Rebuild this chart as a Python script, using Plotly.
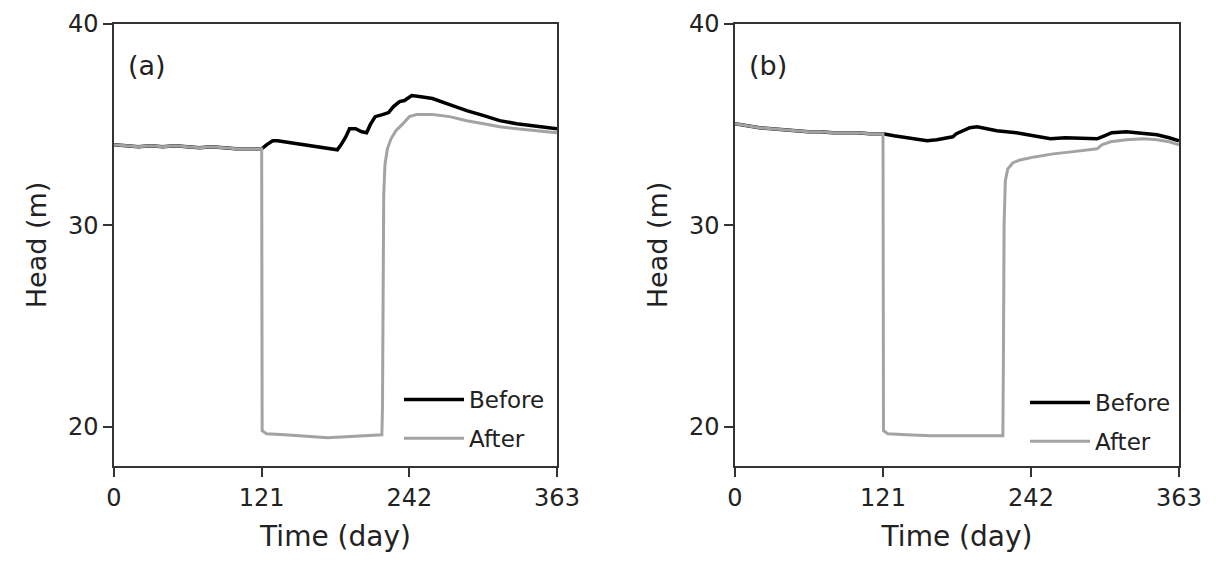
import plotly.graph_objects as go

# ---------------- data ----------------
x_ticks = [0, 121, 242, 363]
y_ticks = [20, 30, 40]

# panel (a)
a_before_x = [0, 10, 20, 30, 40, 50, 60, 70, 80, 90, 100, 110, 121, 125, 130, 134, 150, 165, 183,
              186, 190, 193, 198, 203, 207, 210, 214, 220, 225, 229, 234, 238, 244, 250, 261, 275,
              289, 303, 316, 330, 345, 363]
a_before_y = [34.0, 33.95, 33.9, 33.95, 33.9, 33.95, 33.9, 33.85, 33.9, 33.85, 33.8, 33.8, 33.8,
              34.0, 34.2, 34.2, 34.05, 33.9, 33.75, 34.0, 34.4, 34.8, 34.8, 34.65, 34.6, 35.0,
              35.4, 35.5, 35.6, 35.9, 36.15, 36.2, 36.45, 36.4, 36.3, 36.0, 35.7, 35.45, 35.2,
              35.05, 34.95, 34.8]
a_after_x = [0, 10, 20, 30, 40, 50, 60, 70, 80, 90, 100, 110, 121, 121.4, 125, 140, 160, 175, 190,
             205, 215, 219.5, 220, 220.5, 221, 222, 224, 227, 231, 236, 242, 248, 261, 275, 289,
             303, 316, 330, 345, 363]
a_after_y = [34.0, 33.95, 33.9, 33.95, 33.9, 33.95, 33.9, 33.85, 33.9, 33.85, 33.8, 33.8, 33.8,
             19.8, 19.65, 19.6, 19.5, 19.45, 19.5, 19.55, 19.6, 19.6, 21.0, 28.0, 31.5, 33.0,
             33.8, 34.3, 34.7, 35.0, 35.4, 35.5, 35.5, 35.4, 35.2, 35.05, 34.9, 34.8, 34.7, 34.6]

# panel (b)
b_before_x = [0, 10, 20, 30, 40, 50, 60, 70, 80, 90, 100, 110, 121, 130, 140, 157, 165, 172, 178,
              181, 185, 192, 198, 205, 214, 230, 245, 258, 270, 285, 296, 302, 308, 320, 334, 345,
              355, 363]
b_before_y = [35.05, 34.95, 34.85, 34.8, 34.75, 34.7, 34.65, 34.65, 34.6, 34.6, 34.6, 34.55, 34.55,
              34.45, 34.35, 34.2, 34.25, 34.35, 34.4, 34.55, 34.65, 34.85, 34.9, 34.8, 34.7, 34.6,
              34.45, 34.3, 34.35, 34.3, 34.3, 34.45, 34.6, 34.65, 34.55, 34.5, 34.35, 34.2]
b_after_x = [0, 10, 20, 30, 40, 50, 60, 70, 80, 90, 100, 110, 121, 121.4, 125, 140, 160, 180, 200,
             215, 219, 219.5, 220, 221, 223, 227, 233, 245, 260, 275, 290, 296, 300, 307, 320, 334,
             345, 355, 363]
b_after_y = [35.05, 34.95, 34.85, 34.8, 34.75, 34.7, 34.65, 34.65, 34.6, 34.6, 34.6, 34.55, 34.55,
             19.8, 19.65, 19.6, 19.55, 19.55, 19.55, 19.55, 19.55, 24.0, 30.0, 32.2, 32.8, 33.1,
             33.25, 33.4, 33.55, 33.65, 33.75, 33.8, 34.0, 34.15, 34.25, 34.3, 34.25, 34.15, 34.0]

series_names = ["Before", "After"]
panel_labels = ["(a)", "(b)"]

# ---------------- styling ----------------
FONT = "DejaVu Sans"
TXT = "#222222"
BLACK = "#000000"
GRAY = "#a3a3a3"

fig = go.Figure()

panels = [
    ("x", "y", "legend", a_before_x, a_before_y, a_after_x, a_after_y),
    ("x2", "y2", "legend2", b_before_x, b_before_y, b_after_x, b_after_y),
]
for i, (xa, ya, lg, bx, by, ax, ay) in enumerate(panels):
    fig.add_trace(go.Scatter(x=bx, y=by, mode="lines", name=series_names[0],
                             line=dict(color=BLACK, width=3.5), xaxis=xa, yaxis=ya,
                             legend=lg, legendgroup=f"b{i}"))
    fig.add_trace(go.Scatter(x=ax, y=ay, mode="lines", name=series_names[1],
                             line=dict(color=GRAY, width=3), xaxis=xa, yaxis=ya,
                             legend=lg, legendgroup=f"a{i}"))

W, H = 1216, 572
ydom = [1 - 466 / H, 1 - 24 / H]
xdoms = [[114 / W, 557 / W], [735 / W, 1179 / W]]

axis_common = dict(
    showgrid=False, zeroline=False, showline=True, linecolor="#333333", linewidth=1.5,
    mirror=True, ticks="outside", ticklen=9, tickwidth=1.5, tickcolor="#333333",
    automargin=False,
    tickfont=dict(family=FONT, size=24, color=TXT),
)

layout_axes = {}
for i, name in enumerate(["", "2"]):
    layout_axes[f"xaxis{name}"] = dict(
        axis_common, domain=xdoms[i], range=[0, 363], tickvals=x_ticks,
        ticktext=[str(v) for v in x_ticks], anchor=f"y{name}",
        title=dict(text="Time (day)", font=dict(family=FONT, size=28, color=TXT), standoff=16),
    )
    layout_axes[f"yaxis{name}"] = dict(
        axis_common, domain=ydom, range=[18.05, 40], tickvals=y_ticks,
        ticktext=[str(v) for v in y_ticks], anchor=f"x{name}",
        title=dict(text="Head (m)", font=dict(family=FONT, size=27, color=TXT), standoff=13),
    )

fig.update_layout(
    width=W, height=H,
    margin=dict(l=0, r=0, t=0, b=0, autoexpand=False),
    paper_bgcolor="white", plot_bgcolor="white",
    font=dict(family=FONT, color=TXT),
    legend=dict(x=399 / W, y=1 - 378 / H, xanchor="left", yanchor="top",
                bgcolor="rgba(0,0,0,0)", font=dict(family=FONT, size=23, color=TXT),
                tracegroupgap=6, itemwidth=60),
    legend2=dict(x=1025 / W, y=1 - 381 / H, xanchor="left", yanchor="top",
                 bgcolor="rgba(0,0,0,0)", font=dict(family=FONT, size=23, color=TXT),
                 tracegroupgap=6, itemwidth=60),
    **layout_axes,
)

for i, lab in enumerate(panel_labels):
    fig.add_annotation(text=lab, xref="paper", yref="paper",
                       x=(xdoms[i][0] * W + 12) / W, y=1 - 65 / H, xanchor="left", yanchor="middle",
                       showarrow=False, font=dict(family=FONT, size=27, color=TXT))

fig.write_html("out.html")
